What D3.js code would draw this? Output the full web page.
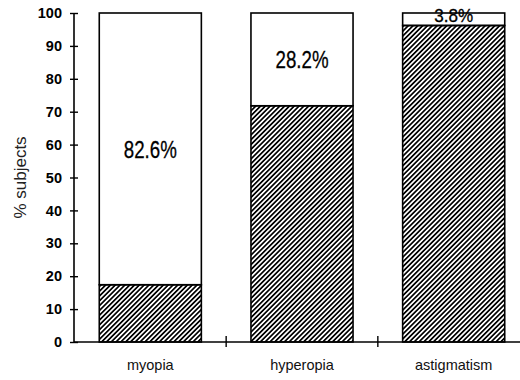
<!DOCTYPE html>
<html>
<head>
<meta charset="utf-8">
<script src="https://cdn.jsdelivr.net/npm/d3@7"></script>
<style>
  html, body { margin: 0; padding: 0; background: #fff; }
  svg { display: block; }
</style>
</head>
<body>
<svg id="chart" width="520" height="380"></svg>
<script>
// Refractive error groups and share of subjects (%)
const categories = ["myopia", "hyperopia", "astigmatism"];
const hatchedValues = [17.4, 71.8, 96.2];
const openValues = [82.6, 28.2, 3.8];
const valueLabels = ["82.6%", "28.2%", "3.8%"];
const yTicks = [0, 10, 20, 30, 40, 50, 60, 70, 80, 90, 100];
const yTitle = "% subjects";

const svg = d3.select("#chart");

const x = d3.scaleBand()
  .domain(categories)
  .range([75, 529])
  .paddingInner(0.327)
  .paddingOuter(0.16);

const y = d3.scaleLinear().domain([0, 100]).range([342, 13]);

// diagonal hatch fill
const defs = svg.append("defs");
defs.append("pattern")
  .attr("id", "hatch")
  .attr("patternUnits", "userSpaceOnUse")
  .attr("width", 3.4)
  .attr("height", 3.4)
  .attr("patternTransform", "rotate(45)")
  .append("rect")
  .attr("x", 0).attr("y", 0)
  .attr("width", 1.7).attr("height", 3.4)
  .attr("fill", "#000");

const rows = categories.map((c, i) => ({
  cat: c, hatched: hatchedValues[i], open: openValues[i], label: valueLabels[i]
}));

const bars = svg.append("g").selectAll("g").data(rows).join("g");

// open (upper) segment
bars.append("rect")
  .attr("x", d => x(d.cat))
  .attr("width", x.bandwidth())
  .attr("y", d => y(d.hatched + d.open))
  .attr("height", d => y(d.hatched) - y(d.hatched + d.open))
  .attr("fill", "#fff")
  .attr("stroke", "#000")
  .attr("stroke-width", 1.6);

// hatched (lower) segment
bars.append("rect")
  .attr("x", d => x(d.cat))
  .attr("width", x.bandwidth())
  .attr("y", d => y(d.hatched))
  .attr("height", d => y(0) - y(d.hatched))
  .attr("fill", "url(#hatch)")
  .attr("stroke", "#000")
  .attr("stroke-width", 1.6);

// value labels in the open segment, set in a condensed face
bars.append("g")
  .attr("transform", d => {
    const cx = x(d.cat) + x.bandwidth() / 2;
    const cy = (y(d.hatched) + y(d.hatched + d.open)) / 2;
    return `translate(${cx},${cy}) scale(${d.open < 10 ? 0.95 : 0.78},1)`;
  })
  .append("text")
  .attr("dy", d => d.open < 10 ? "0.15em" : "0.36em")
  .attr("text-anchor", "middle")
  .attr("font-family", "'Liberation Sans', Arial, sans-serif")
  .attr("font-size", d => d.open < 10 ? 18 : 24)
  .attr("stroke", "#000")
  .attr("stroke-width", 0.3)
  .attr("fill", "#000")
  .text(d => d.label);

// y axis
const yAxis = d3.axisLeft(y)
  .tickValues(yTicks)
  .tickSize(4)
  .tickPadding(8)
  .tickFormat(d3.format("d"));

const gy = svg.append("g").attr("transform", "translate(74,0)").call(yAxis);
gy.select(".domain").attr("stroke", "#000").attr("stroke-width", 1.6)
  .attr("d", `M0,${y(100)}V${y(0)}`);
gy.selectAll(".tick line").attr("x1", -4).attr("x2", 4)
  .attr("stroke", "#000").attr("stroke-width", 1.4);
gy.selectAll(".tick text")
  .attr("font-family", "'Liberation Sans', Arial, sans-serif")
  .attr("font-weight", "bold")
  .attr("font-size", 14.5)
  .attr("fill", "#000");

// x axis
const xAxis = d3.axisBottom(x).tickSize(0).tickPadding(18);
const gx = svg.append("g").attr("transform", `translate(0,${y(0)})`).call(xAxis);
gx.select(".domain").attr("stroke", "#000").attr("stroke-width", 1.6)
  .attr("d", "M74,0H520");
gx.selectAll(".tick text")
  .attr("font-family", "'Liberation Sans', Arial, sans-serif")
  .attr("font-size", 14.5)
  .attr("fill", "#111");

// separators between categories
const step = x.step();
const seps = categories.slice(1).map(c => x(c) - step * x.paddingInner() / 2);
gx.selectAll(".sep").data(seps).join("line")
  .attr("class", "sep")
  .attr("x1", d => d).attr("x2", d => d)
  .attr("y1", -6).attr("y2", 5)
  .attr("stroke", "#000").attr("stroke-width", 1.4);

// y title
svg.append("text")
  .attr("transform", `translate(26,${(y(0) + y(100)) / 2}) rotate(-90)`)
  .attr("text-anchor", "middle")
  .attr("font-family", "'Liberation Sans', Arial, sans-serif")
  .attr("font-size", 17)
  .attr("fill", "#222")
  .text(yTitle);
</script>
</body>
</html>
